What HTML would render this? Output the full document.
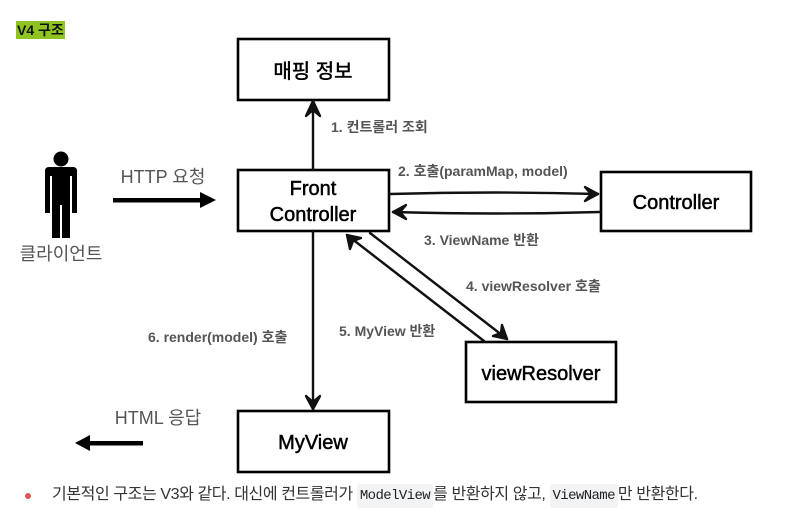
<!DOCTYPE html>
<html><head><meta charset="utf-8"><style>
body{margin:0;width:786px;height:519px;background:#fff;overflow:hidden;position:relative;font-family:"Liberation Sans","Noto Sans CJK KR",sans-serif}
svg{position:absolute;left:0;top:0}
.t{position:absolute;top:21px;left:16px;background:#8fc31f;font-weight:bold;font-size:14px;line-height:18px;padding:0 1px;color:#111}
.b{position:absolute;top:482px;left:0;font-size:16px;color:#333;white-space:nowrap;line-height:26px;letter-spacing:-0.4px}
.b code{font-family:"Liberation Mono",monospace;font-size:14px;background:#f2f3f5;padding:4px 3px;border-radius:3px;color:#222;letter-spacing:-0.6px}
</style></head><body>
<div class="t">V4 구조</div>
<svg width="786" height="519" viewBox="0 0 786 519" font-family="Liberation Sans, Noto Sans CJK KR, sans-serif">
<g fill="#fff" stroke="#000" stroke-width="2.6">
<rect x="238" y="39" width="151" height="61"/>
<rect x="238" y="170" width="151" height="61"/>
<rect x="601" y="172" width="150" height="59"/>
<rect x="466" y="342" width="150" height="60"/>
<rect x="238" y="411" width="151" height="61"/>
</g>
<g font-size="20" text-anchor="middle" fill="#000" stroke="#000" stroke-width="0.5">
<text x="313" y="78">매핑 정보</text>
<text x="313" y="195">Front</text>
<text x="313" y="221">Controller</text>
<text x="676" y="209">Controller</text>
<text x="541" y="380">viewResolver</text>
<text x="313" y="449">MyView</text>
</g>
<g fill="#000">
<circle cx="61" cy="159" r="7.5"/>
<path d="M49 167 H73 Q77 167 77 171 V213 H72 V176 H70 V238 H62 V205 H60 V238 H52 V176 H50 V213 H45 V171 Q45 167 49 167Z"/>
</g>
<text x="61" y="260" font-size="18" fill="#555" text-anchor="middle">클라이언트</text>
<text x="163" y="183" font-size="18" fill="#555" text-anchor="middle">HTTP 요청</text>
<text x="158" y="424" font-size="18" fill="#555" text-anchor="middle">HTML 응답</text>
<g fill="#000">
<rect x="113" y="198" width="88" height="4.5"/><path d="M200 192 L216 200 L200 208Z"/>
<rect x="89" y="441" width="54" height="4.5"/><path d="M90 435 L75 443 L90 451Z"/>
</g>
<g stroke="#111" stroke-width="2.4" fill="none" stroke-linecap="round" stroke-linejoin="round">
<line x1="313" y1="170" x2="313" y2="102"/>
<path d="M306 116 L313 101 L320 116 L313 110Z" fill="#111"/>
<line x1="313" y1="231" x2="313" y2="409"/>
<path d="M306 396 L313 409 L320 396 L313 402Z" fill="#111"/>
<path d="M390 194 Q495 191 598 194"/>
<path d="M585 187 L598 194 L585 201 L591 194Z" fill="#111"/>
<path d="M600 212 Q495 215 393 212"/>
<path d="M406 205 L393 212 L406 219 L400 212Z" fill="#111"/>
<line x1="370" y1="233" x2="507" y2="339"/>
<path d="M502 325 L507 339 L493 336 L501 333Z" fill="#111"/>
<line x1="484" y1="341" x2="347" y2="235"/>
<path d="M350 249 L347 235 L361 238 L353 241Z" fill="#111"/>
</g>
<g font-size="14" font-weight="bold" fill="#555">
<text x="331" y="132">1. 컨트롤러 조회</text>
<text x="398" y="176">2. 호출(paramMap, model)</text>
<text x="424" y="245">3. ViewName 반환</text>
<text x="466" y="291">4. viewResolver 호출</text>
<text x="339" y="336">5. MyView 반환</text>
<text x="148" y="342">6. render(model) 호출</text>
</g>
<circle cx="28" cy="496" r="3" fill="#e05555"/>
</svg>
<div class="b" style="left:52px">기본적인 구조는 V3와 같다. 대신에 컨트롤러가 <code>ModelView</code>를 반환하지 않고, <code>ViewName</code>만 반환한다.</div>
</body></html>
